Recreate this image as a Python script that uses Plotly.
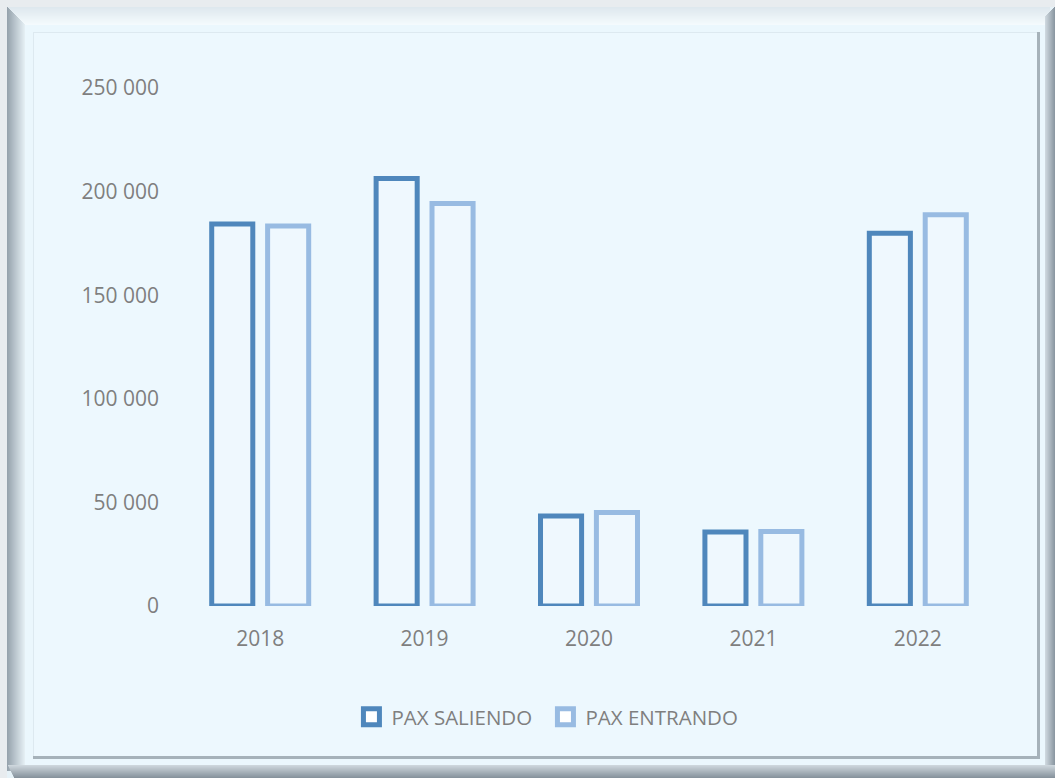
import plotly.graph_objects as go

years = ["2018", "2019", "2020", "2021", "2022"]
pax_saliendo = [184400, 206300, 43400, 35700, 179900]
pax_entrando = [183400, 194300, 45100, 36000, 188800]
series_names = ["PAX SALIENDO", "PAX ENTRANDO"]
series_colors = ["#4F87BC", "#98BBE2"]
y_ticks = [0, 50000, 100000, 150000, 200000, 250000]

W, H = 1055, 778
L, R, T, B = 178, 55, 88, 172
PW, PH = W - L - R, H - T - B

def px(x):
    return (x - L) / PW

def py(y):
    return (H - B - y) / PH

def rect(x0, y0, x1, y1, color):
    return dict(type="rect", xref="paper", yref="paper",
                x0=px(x0), x1=px(x1), y0=py(y1), y1=py(y0),
                fillcolor=color, layer="below", line=dict(width=0))

def lerp(c0, c1, t):
    return "rgb(%d,%d,%d)" % tuple(round(a + (b - a) * t) for a, b in zip(c0, c1))

shapes = []
shapes.append(rect(7, 7, 1055, 778, "#E6F2F8"))
for i in range(18):
    shapes.append(rect(7 + i * 0.9, 7 + i, 1050, 8 + i, lerp((222, 232, 238), (244, 250, 253), i / 17)))
for i in range(18):
    shapes.append(rect(7 + i, 7 + i, 8 + i, 771, lerp((150, 163, 173), (228, 238, 243), i / 17)))
for i in range(10):
    shapes.append(rect(1045 + i, 16 - i, 1046 + i, 778, lerp((205, 215, 222), (140, 152, 162), i / 9)))
for i in range(13):
    shapes.append(rect(8 + i * 0.5, 765 + i, 1055, 766 + i, lerp((205, 214, 220), (135, 147, 157), i / 12)))
shapes.append(rect(25, 25, 1045, 765, "#EBF7FD"))
shapes.append(rect(33, 32, 1040, 759, "#A6B2BA"))
shapes.append(rect(33, 32, 1037, 756, "#DDE9F0"))
shapes.append(rect(34, 33, 1037, 756, "#EDF8FE"))

fig = go.Figure()
for name, vals, col in zip(series_names, [pax_saliendo, pax_entrando], series_colors):
    fig.add_trace(go.Bar(
        x=years, y=vals, name=name, showlegend=False, legendgroup=name,
        marker=dict(color="rgba(255,255,255,0.12)", line=dict(color=col, width=5)),
    ))
for name, col in zip(series_names, series_colors):
    fig.add_trace(go.Scatter(
        x=[None], y=[None], name=name, legendgroup=name, mode="markers",
        marker=dict(symbol="square", size=16, color="white", line=dict(color=col, width=5)),
    ))

font_c = "#7F7F7F"
fig.update_layout(
    width=W, height=H,
    margin=dict(l=L, r=R, t=T, b=B, autoexpand=False),
    paper_bgcolor="#E8ECEF",
    plot_bgcolor="rgba(0,0,0,0)",
    barmode="group", bargap=0.32, bargroupgap=0.265,
    separators=", ",
    font=dict(family="Open Sans, Liberation Sans, sans-serif", size=21, color=font_c),
    shapes=shapes,
    showlegend=True,
    legend=dict(orientation="h", x=0.447, y=-0.214, xanchor="center", yanchor="middle",
                bgcolor="rgba(0,0,0,0)", font=dict(size=20.5, color=font_c),
                itemwidth=30, entrywidth=149, entrywidthmode="pixels",
                traceorder="normal"),
    xaxis=dict(showgrid=False, showline=False, zeroline=False, ticks="",
               ticklabelstandoff=18, tickfont=dict(size=21, color=font_c)),
    yaxis=dict(range=[0, 250000], tickvals=y_ticks, tickformat=",d",
               showgrid=False, showline=False, zeroline=False, ticks="",
               ticklabelstandoff=18, tickfont=dict(size=21, color=font_c)),
)

fig.write_html("out.html", config={"displayModeBar": False},
               post_script="document.body.style.margin='0';")
